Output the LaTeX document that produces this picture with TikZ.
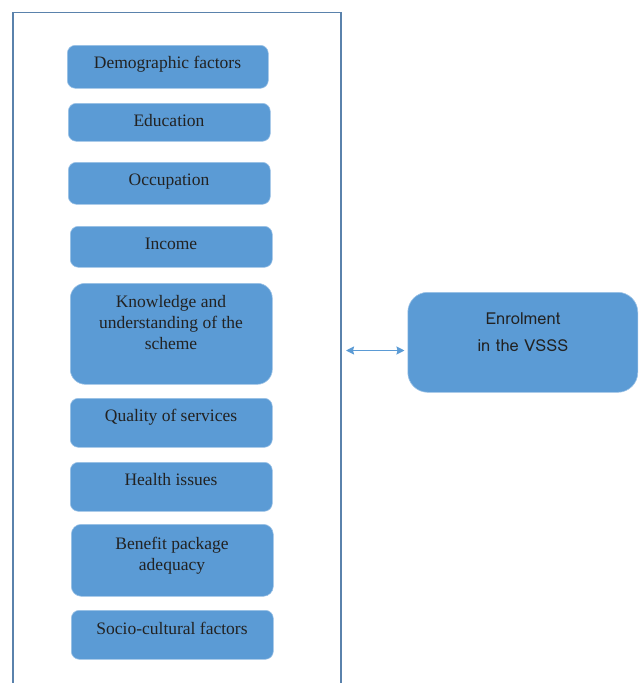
\documentclass[tikz,border=0pt]{standalone}
\usepackage{fontspec}
\setmainfont{Liberation Serif}
\newfontfamily\enrfont{Loma}
\usetikzlibrary{arrows.meta}
\definecolor{boxblue}{HTML}{5B9BD5}
\definecolor{boxedge}{HTML}{9DC3E6}
\definecolor{framecol}{HTML}{5A82AC}
\definecolor{txtcol}{HTML}{222222}
\begin{document}
\begin{tikzpicture}[x=1pt,y=-1pt,
  fbox/.style={draw=boxedge, line width=0.6pt, fill=boxblue, rounded corners=8pt, anchor=north west, inner sep=0pt},
  ftxt/.style={anchor=base, inner sep=0pt, text=txtcol, font=\fontsize{17.5}{21}\selectfont, align=center},
  etxt/.style={anchor=base, inner sep=0pt, text=txtcol, font=\enrfont\fontsize{16.5}{27}\selectfont, align=center}]
\useasboundingbox (0,0) rectangle (638,683);
\begin{scope}
\clip (0,0) rectangle (638,683);
\draw[framecol, line width=1.4pt] (13,700) -- (13,12.5) -- (341,12.5) -- (341,700);
\end{scope}
% boxes
\node[fbox, minimum width=201pt, minimum height=43pt] (b1) at (67,45) {};
\node[ftxt] (t1) at (167.5,68) {Demographic factors};
\node[fbox, minimum width=202pt, minimum height=38pt] (b2) at (68,103) {};
\node[ftxt] (t2) at (169,126) {Education};
\node[fbox, minimum width=202pt, minimum height=42pt] (b3) at (68,162) {};
\node[ftxt] (t3) at (169,185) {Occupation};
\node[fbox, minimum width=202pt, minimum height=41pt] (b4) at (70,226) {};
\node[ftxt] (t4) at (171,249) {Income};
\node[fbox, rounded corners=15pt, minimum width=202pt, minimum height=101pt] (b5) at (70,283) {};
\node[ftxt, anchor=north] (t5) at (171,295.5) {Knowledge and\\understanding of the\\scheme};
\node[fbox, minimum width=202pt, minimum height=49pt] (b6) at (70,398) {};
\node[ftxt] (t6) at (171,421) {Quality of services};
\node[fbox, minimum width=202pt, minimum height=49pt] (b7) at (70,462) {};
\node[ftxt] (t7) at (171,485) {Health issues};
\node[fbox, rounded corners=10pt, minimum width=202pt, minimum height=72pt] (b8) at (71,524) {};
\node[ftxt, anchor=north] (t8) at (172,536.5) {Benefit package\\adequacy};
\node[fbox, minimum width=202pt, minimum height=49pt] (b9) at (71,610) {};
\node[ftxt] (t9) at (172,634) {Socio-cultural factors};
% enrolment
\node[fbox, rounded corners=20pt, minimum width=230pt, minimum height=100pt] (en) at (407.5,292) {};
\node[etxt] (te1) at (523,324) {Enrolment};
\node[etxt] (te2) at (523,351) {in the VSSS};
% arrow
\coordinate (L) at (346,350.5);
\draw[boxblue, line width=1.7pt, {Stealth[length=8pt,width=8pt,inset=1pt]}-{Stealth[length=8pt,width=8pt,inset=1pt]}] (L) -- ([xshift=-3pt]en.west |- L);
\end{tikzpicture}
\end{document}
